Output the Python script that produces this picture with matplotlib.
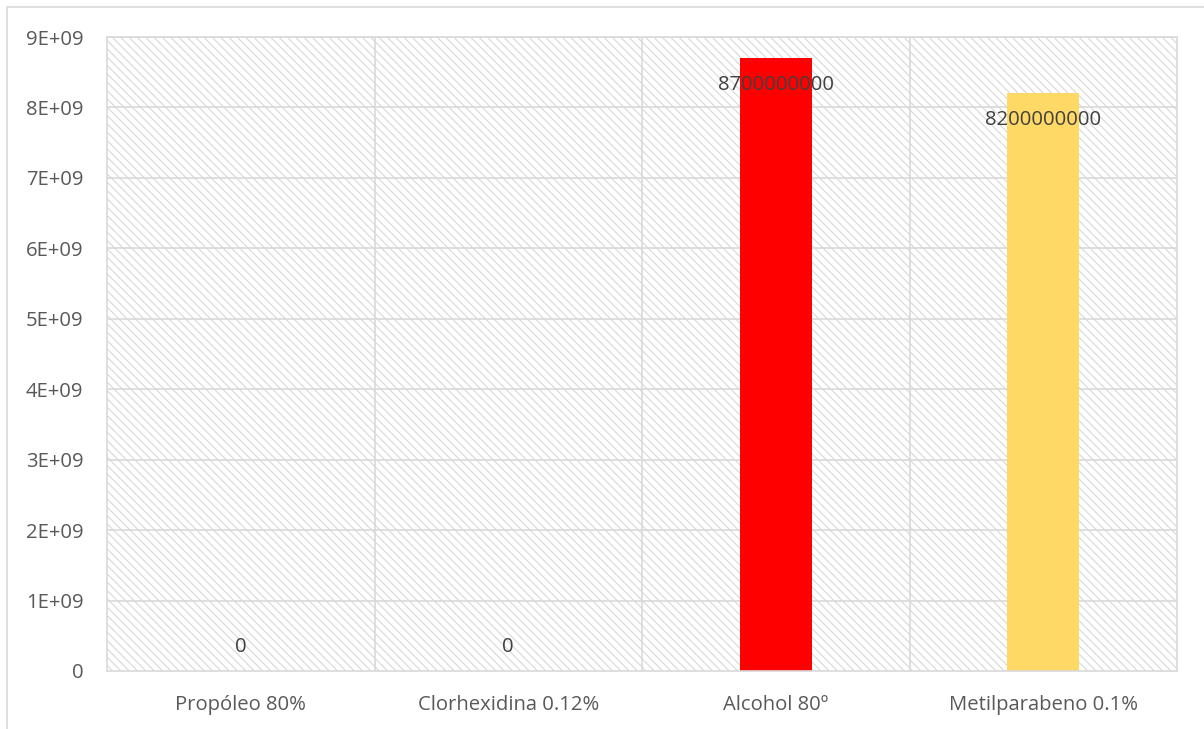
import matplotlib
matplotlib.use("Agg")
import matplotlib.pyplot as plt
from matplotlib.patches import Rectangle

categories = ["Propóleo 80%", "Clorhexidina 0.12%", "Alcohol 80º", "Metilparabeno 0.1%"]
values = [0, 0, 8700000000, 8200000000]
labels = ["0", "0", "8700000000", "8200000000"]
colors = ["#4472C4", "#ED7D31", "#FF0000", "#FFD966"]
yticks = [0, 1e9, 2e9, 3e9, 4e9, 5e9, 6e9, 7e9, 8e9, 9e9]
ytick_labels = ["0", "1E+09", "2E+09", "3E+09", "4E+09", "5E+09", "6E+09", "7E+09", "8E+09", "9E+09"]

plt.rcParams['font.family'] = ['Open Sans', 'DejaVu Sans']
plt.rcParams['hatch.linewidth'] = 0.7
plt.rcParams['hatch.color'] = '#D3D3D3'

W, H = 1204, 729
fig = plt.figure(figsize=(W / 100, H / 100), dpi=100)
fig.patches.append(Rectangle((7 / W, -0.1), 1.2, (H - 7) / H + 0.1, transform=fig.transFigure,
                             fill=False, edgecolor='#D9D9D9', linewidth=1.2))

ax = fig.add_axes([107 / W, (H - 671) / H, (1177 - 107) / W, (671 - 37) / H])
ax.set_xlim(-0.5, len(categories) - 0.5)
ax.set_ylim(0, 9e9)

# hatched background
ax.add_patch(Rectangle((0, 0), 1, 1, transform=ax.transAxes, facecolor='white',
                       edgecolor='#D3D3D3', hatch='\\\\\\\\', linewidth=0, zorder=0))

for y in yticks[1:]:
    ax.axhline(y, color='#D9D9D9', linewidth=1.2, zorder=1)
for x in [0.5, 1.5, 2.5]:
    ax.axvline(x, color='#D9D9D9', linewidth=1.2, zorder=1)

xs = list(range(len(categories)))
ax.bar(xs, values, width=0.27, color=colors, zorder=2)

for x, v, lab in zip(xs, values, labels):
    off = -27 if v > 0 else 24
    ax.annotate(lab, (x, v), xytext=(0, off), textcoords='offset pixels',
                ha='center', va='center', fontsize=14.6, color='#404040', zorder=3)

ax.set_xticks(xs)
ax.set_xticklabels(categories, fontsize=14.6, color='#595959')
ax.set_yticks(yticks)
ax.set_yticklabels(ytick_labels, fontsize=14.6, color='#595959')
ax.tick_params(length=0)
ax.tick_params(axis='y', pad=17)
ax.tick_params(axis='x', pad=17)
for s in ax.spines.values():
    s.set_color('#D9D9D9')
    s.set_linewidth(1.2)

fig.savefig("out.png", dpi=100)
